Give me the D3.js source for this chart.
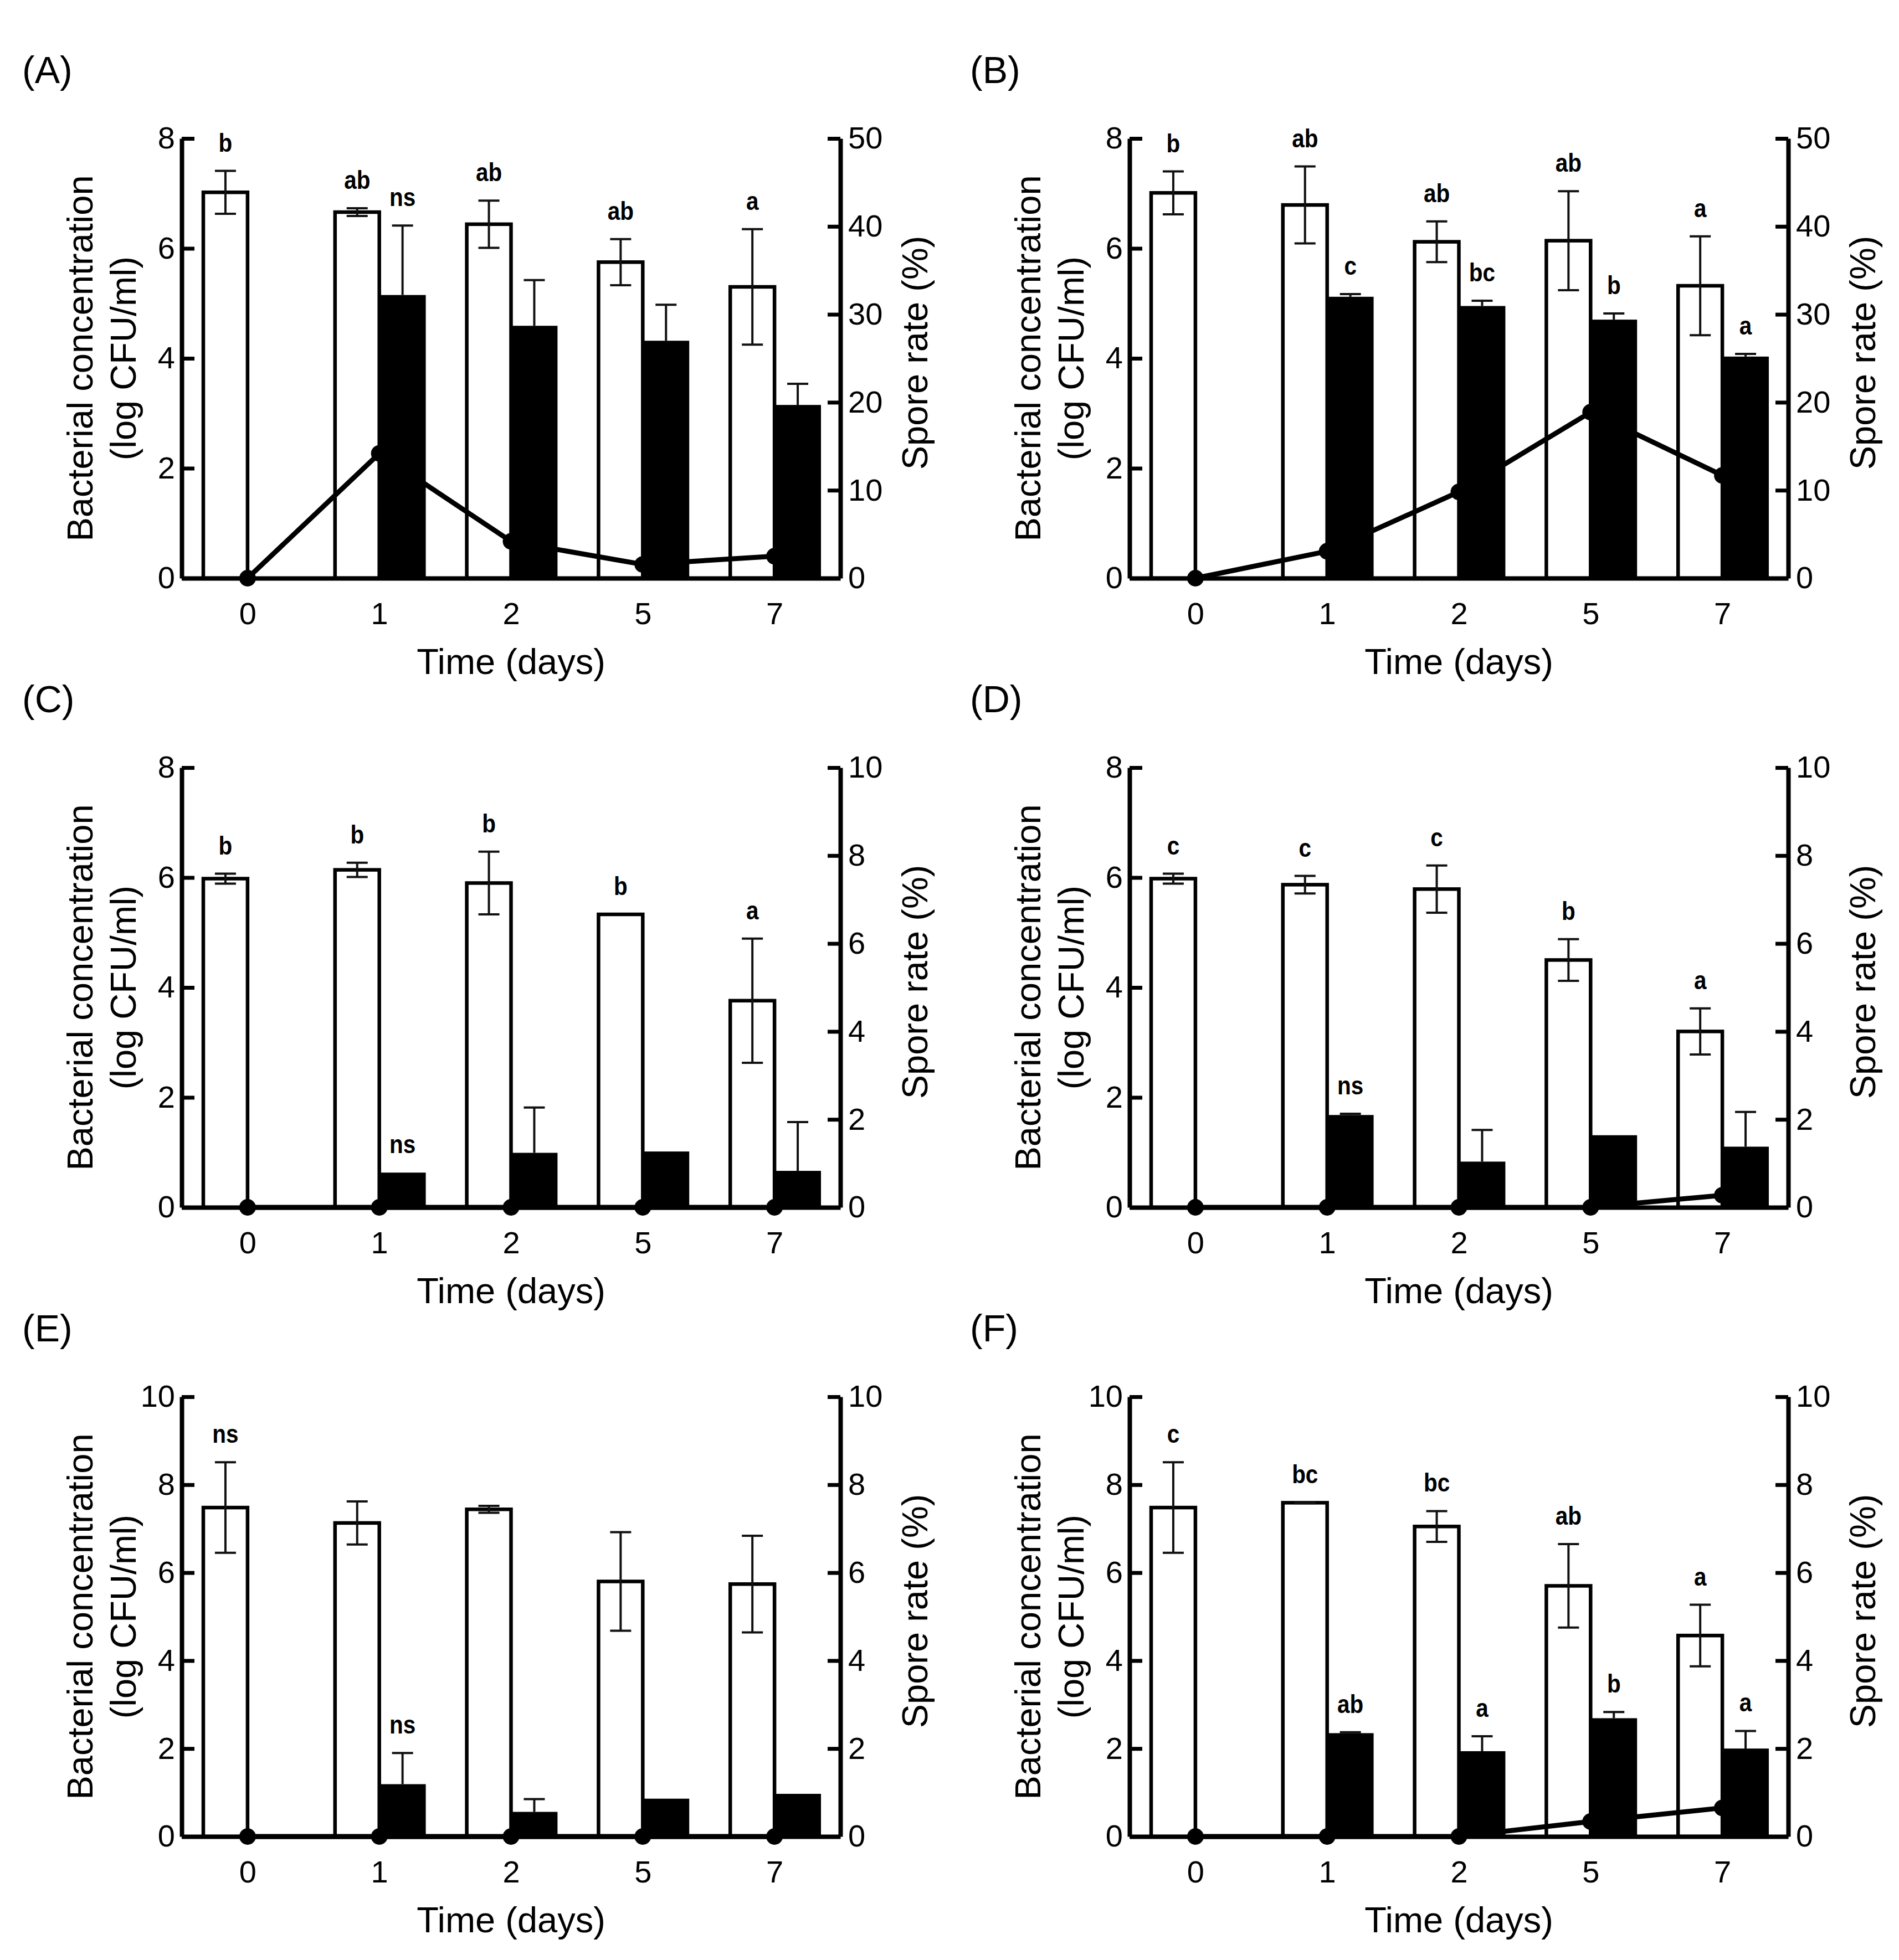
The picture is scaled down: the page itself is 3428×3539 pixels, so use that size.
<!DOCTYPE html>
<html>
<head>
<meta charset="utf-8">
<script src="https://cdn.jsdelivr.net/npm/d3@7"></script>
<style>
  body { margin: 0; background: #fff; }
  text { font-family: "Liberation Sans", Arial, sans-serif; fill: #000; }
  .letter { font-weight: bold; }
</style>
</head>
<body>
<div id="chart"></div>
<script>

// categories
var days = ["0", "1", "2", "5", "7"]
var panelNames = ["(A)", "(B)", "(C)", "(D)", "(E)", "(F)"]

// axis ranges per panel
var leftMax = [8, 8, 8, 8, 10, 10]
var rightMax = [50, 50, 10, 10, 10, 10]

// white bars: bacterial concentration (log CFU/ml)
var concMean = [
  [7.02, 6.66, 6.44, 5.75, 5.30],
  [7.01, 6.79, 6.12, 6.14, 5.32],
  [5.98, 6.14, 5.90, 5.33, 3.76],
  [5.98, 5.87, 5.79, 4.50, 3.20],
  [7.48, 7.13, 7.44, 5.80, 5.74],
  [7.48, 7.59, 7.05, 5.70, 4.57]
]
var concErr = [
  [0.39, 0.07, 0.43, 0.42, 1.05],
  [0.39, 0.70, 0.37, 0.90, 0.90],
  [0.09, 0.13, 0.57, null, 1.13],
  [0.09, 0.16, 0.43, 0.38, 0.42],
  [1.03, 0.49, 0.08, 1.12, 1.10],
  [1.03, 0.01, 0.35, 0.95, 0.70]
]
var concLetters = [
  ["b", "ab", "ab", "ab", "a"],
  ["b", "ab", "ab", "ab", "a"],
  ["b", "b", "b", "b", "a"],
  ["c", "c", "c", "b", "a"],
  ["ns", "", "", "", ""],
  ["c", "bc", "bc", "ab", "a"]
]

// black bars: spore rate (%)
var sporeMean = [
  [0, 32.2, 28.7, 27.0, 19.7],
  [0, 32.0, 30.95, 29.4, 25.2],
  [0, 0.79, 1.24, 1.27, 0.83],
  [0, 2.10, 1.04, 1.64, 1.38],
  [0, 1.19, 0.56, 0.86, 0.97],
  [0, 2.35, 1.94, 2.69, 2.00]
]
var sporeErr = [
  [null, 7.9, 5.2, 4.1, 2.4],
  [null, 0.3, 0.6, 0.7, 0.3],
  [null, null, 1.03, null, 1.11],
  [null, 0.03, 0.72, null, 0.79],
  [null, 0.71, 0.29, null, null],
  [null, 0.02, 0.34, 0.14, 0.40]
]
var sporeLetters = [
  ["", "ns", "", "", ""],
  ["", "c", "bc", "b", "a"],
  ["", "ns", "", "", ""],
  ["", "ns", "", "", ""],
  ["", "ns", "", "", ""],
  ["", "ab", "a", "b", "a"]
]

// line: spore concentration (left axis)
var sporeLine = [
  [0, 2.27, 0.67, 0.25, 0.40],
  [0, 0.49, 1.57, 3.02, 1.87],
  [0, 0, 0, 0, 0],
  [0, 0, 0, 0, 0.22],
  [0, 0, 0, 0, 0],
  [0, 0, 0, 0.34, 0.65]
]


var config = {
  width: 3428,
  height: 3539,
  colStep: 1711,
  rowStep: 1136,
  plot: { left: 328, right: 1517, top: 250, bottom: 1044 },
  barFrac: 0.336,
  letterGap: 35
}

var svg = d3.select("#chart").append("svg")
    .attr("width", config.width)
    .attr("height", config.height)

svg.append("rect")
    .attr("width", config.width)
    .attr("height", config.height)
    .attr("fill", "#fff")

panelNames.forEach(function(name, p){
  var col = p % 2, row = Math.floor(p / 2)
  var g = svg.append("g")
      .attr("transform", "translate(" + (col * config.colStep) + "," + (row * config.rowStep) + ")")
  drawPanel(g, p)
})

function drawPanel(g, p){
  var pl = config.plot

  var x = d3.scalePoint().domain(days).range([pl.left, pl.right]).padding(0.5)
  var yL = d3.scaleLinear().domain([0, leftMax[p]]).range([pl.bottom, pl.top])
  var yR = d3.scaleLinear().domain([0, rightMax[p]]).range([pl.bottom, pl.top])
  var bw = x.step() * config.barFrac

  var rows = days.map(function(d, i){
    return {
      day: d,
      conc: concMean[p][i], concErr: concErr[p][i], concLetter: concLetters[p][i],
      spore: sporeMean[p][i], sporeErr: sporeErr[p][i], sporeLetter: sporeLetters[p][i],
      line: sporeLine[p][i]
    }
  })

  // white bars
  g.selectAll(".bar-white")
      .data(rows)
    .enter().append("rect")
      .attr("class", "bar-white")
      .attr("x", function(d){ return x(d.day) - bw })
      .attr("y", function(d){ return yL(d.conc) })
      .attr("width", bw)
      .attr("height", function(d){ return yL(0) - yL(d.conc) })
      .attr("fill", "#fff")
      .attr("stroke", "#000")
      .attr("stroke-width", 6.5)

  // black bars
  g.selectAll(".bar-black")
      .data(rows.filter(function(d){ return d.spore > 0 }))
    .enter().append("rect")
      .attr("class", "bar-black")
      .attr("x", function(d){ return x(d.day) })
      .attr("y", function(d){ return yR(d.spore) })
      .attr("width", bw + 4)
      .attr("height", function(d){ return yR(0) - yR(d.spore) })
      .attr("fill", "#000")

  // error bars (black bars only show the upper half)
  var errs = []
  rows.forEach(function(d){
    if(d.concErr !== null) errs.push({ cx: x(d.day) - bw / 2, hi: yL(d.conc + d.concErr), lo: yL(d.conc - d.concErr), low: true })
    if(d.sporeErr !== null) errs.push({ cx: x(d.day) + bw / 2 + 2, hi: yR(d.spore + d.sporeErr), lo: yR(d.spore), low: false })
  })
  var eg = g.selectAll(".err")
      .data(errs)
    .enter().append("g")
      .attr("class", "err")
      .attr("stroke", "#111")
      .attr("stroke-width", 4)
  eg.append("line")
      .attr("x1", function(d){ return d.cx }).attr("x2", function(d){ return d.cx })
      .attr("y1", function(d){ return d.hi }).attr("y2", function(d){ return d.lo })
  eg.append("line")
      .attr("x1", function(d){ return d.cx - 19 }).attr("x2", function(d){ return d.cx + 19 })
      .attr("y1", function(d){ return d.hi }).attr("y2", function(d){ return d.hi })
  eg.filter(function(d){ return d.low }).append("line")
      .attr("x1", function(d){ return d.cx - 19 }).attr("x2", function(d){ return d.cx + 19 })
      .attr("y1", function(d){ return d.lo }).attr("y2", function(d){ return d.lo })

  // line with dots
  var line = d3.line()
      .x(function(d){ return x(d.day) })
      .y(function(d){ return yL(d.line) })
  g.append("path")
      .datum(rows)
      .attr("d", line)
      .attr("fill", "none")
      .attr("stroke", "#000")
      .attr("stroke-width", 9)
      .attr("stroke-linejoin", "round")

  // axes
  var axL = g.append("g")
      .attr("transform", "translate(" + pl.left + ",0)")
      .call(d3.axisLeft(yL).tickValues(d3.range(0, leftMax[p] + 1, 2)).tickSizeInner(-23).tickSizeOuter(0).tickPadding(12))
  var axR = g.append("g")
      .attr("transform", "translate(" + pl.right + ",0)")
      .call(d3.axisRight(yR).tickValues(d3.range(0, rightMax[p] + 1, rightMax[p] / 5)).tickSizeInner(-23).tickSizeOuter(0).tickPadding(14))
  var axB = g.append("g")
      .attr("transform", "translate(0," + pl.bottom + ")")
      .call(d3.axisBottom(x).tickSize(0).tickPadding(43))

  ;[axL, axR, axB].forEach(function(a){
    a.attr("font-size", 56).attr("font-family", null)
    a.select(".domain").attr("stroke-width", 8).attr("stroke", "#000")
    a.selectAll(".tick line").attr("stroke-width", 7).attr("stroke", "#000")
    a.selectAll(".tick text").attr("fill", "#000")
  })
  axB.selectAll(".tick text").attr("dy", "0.71em")

  // dots drawn over the x axis
  g.selectAll(".dot")
      .data(rows)
    .enter().append("circle")
      .attr("class", "dot")
      .attr("cx", function(d){ return x(d.day) })
      .attr("cy", function(d){ return yL(d.line) })
      .attr("r", 15)
      .attr("fill", "#000")

  // significance letters
  var lets = []
  rows.forEach(function(d){
    if(d.concLetter) lets.push({ t: d.concLetter, cx: x(d.day) - bw / 2, y: yL(d.conc + (d.concErr || 0)) })
    if(d.sporeLetter) lets.push({ t: d.sporeLetter, cx: x(d.day) + bw / 2 + 2, y: yR(d.spore + (d.sporeErr || 0)) })
  })
  g.selectAll(".letter")
      .data(lets)
    .enter().append("text")
      .attr("class", "letter")
      .attr("transform", function(d){ return "translate(" + d.cx + "," + (d.y - config.letterGap) + ") scale(0.88,1)" })
      .attr("text-anchor", "middle")
      .attr("font-size", 46)
      .text(function(d){ return d.t })

  // titles
  var midY = (pl.top + pl.bottom) / 2
  g.append("text")
      .attr("transform", "translate(167," + midY + ") rotate(-90)")
      .attr("text-anchor", "middle")
      .attr("font-size", 65)
      .text("Bacterial concentration")
  g.append("text")
      .attr("transform", "translate(245," + midY + ") rotate(-90)")
      .attr("text-anchor", "middle")
      .attr("font-size", 65)
      .text("(log CFU/ml)")
  g.append("text")
      .attr("transform", "translate(1674," + (midY - 10) + ") rotate(-90)")
      .attr("text-anchor", "middle")
      .attr("font-size", 65)
      .text("Spore rate (%)")
  g.append("text")
      .attr("x", (pl.left + pl.right) / 2)
      .attr("y", pl.bottom + 173)
      .attr("text-anchor", "middle")
      .attr("font-size", 65)
      .text("Time (days)")

  g.append("text")
      .attr("x", 40)
      .attr("y", 150)
      .attr("font-size", 68)
      .text(panelNames[p])
}

</script>
</body>
</html>
